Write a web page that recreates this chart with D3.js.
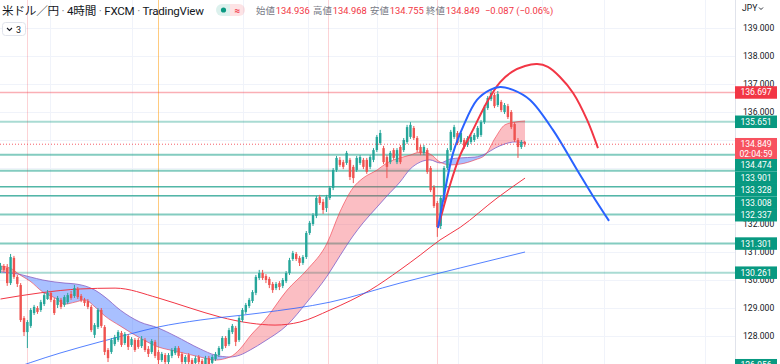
<!DOCTYPE html>
<html>
<head>
<meta charset="utf-8">
<script src="https://cdn.jsdelivr.net/npm/d3@7"></script>
<style>
  body { margin: 0; background: #fff; }
  svg { display: block; font-family: Roboto, "Noto Sans CJK JP", sans-serif; }
</style>
</head>
<body>
<div id="chart"></div>
<script>
// 4h candles, [open, high, low, close]
const candles = [
  [130.36,130.61,130.25,130.50],[130.50,130.57,130.29,130.36],[130.43,130.57,129.79,129.89],[129.89,130.93,129.82,130.82],
  [130.79,130.86,130.04,130.11],[130.11,130.18,129.75,129.86],[129.82,129.89,128.50,128.57],[128.64,128.71,128.00,128.14],
  [128.14,128.57,127.57,128.50],[128.36,129.00,128.29,128.93],[128.82,129.11,128.75,129.04],[129.00,129.07,128.79,128.86],
  [128.93,129.29,128.86,129.21],[129.14,129.54,129.07,129.46],[129.32,129.64,129.29,129.54],[129.54,129.61,129.21,129.29],
  [129.29,129.36,128.75,128.82],[129.11,129.43,129.00,129.36],[129.29,129.36,128.96,129.04],[129.11,129.46,129.04,129.39],
  [129.21,129.54,129.14,129.46],[129.50,129.61,129.29,129.36],[129.43,129.82,129.36,129.71],[129.68,129.75,129.32,129.39],
  [129.43,129.50,129.21,129.29],[129.29,129.36,129.07,129.18],[129.25,129.32,128.96,129.04],[129.04,129.11,128.14,128.21],
  [128.04,128.46,127.93,128.39],[128.32,129.00,128.25,128.93],[128.93,129.00,128.29,128.36],[128.32,128.39,127.32,127.43],
  [127.50,127.57,127.07,127.21],[127.43,127.93,127.36,127.86],[127.71,128.04,127.64,127.96],[127.86,128.21,127.79,128.14],
  [128.11,128.18,127.61,127.68],[127.75,128.14,127.68,128.07],[128.00,128.07,127.50,127.61],[127.68,127.96,127.61,127.89],
  [127.86,127.93,127.43,127.50],[127.86,127.93,127.54,127.61],[127.64,128.00,127.57,127.89],[127.86,127.93,127.43,127.50],
  [127.54,127.64,127.25,127.36],[127.43,127.89,127.36,127.82],[127.79,127.86,127.21,127.29],[127.43,127.50,126.96,127.14],
  [127.14,127.43,127.07,127.36],[127.32,127.39,127.00,127.07],[127.07,127.39,127.00,127.32],[127.29,127.57,127.21,127.50],
  [127.39,127.64,127.32,127.57],[127.57,127.64,127.21,127.29],[127.36,127.43,126.96,127.07],[127.07,127.32,127.00,127.25],
  [127.32,127.39,127.00,127.07],[127.14,127.21,126.89,127.00],[127.04,127.29,126.96,127.21],[127.25,127.32,127.00,127.07],
  [127.11,127.18,126.89,127.00],[127.00,127.29,126.93,127.21],[127.21,127.29,126.93,127.00],[127.04,127.32,126.96,127.25],
  [127.18,127.43,127.11,127.36],[127.32,127.64,127.25,127.57],[127.54,128.00,127.46,127.93],[127.93,128.00,127.57,127.64],
  [127.71,128.29,127.64,128.21],[128.14,128.43,128.07,128.36],[128.29,128.36,127.64,127.79],[127.86,128.71,127.79,128.64],
  [128.57,129.00,128.50,128.93],[128.86,129.18,128.79,129.11],[129.07,129.36,129.00,129.29],[129.25,129.64,129.18,129.57],
  [129.54,130.18,129.46,130.11],[130.07,130.36,130.00,130.25],[130.25,130.36,130.00,130.07],[130.14,130.21,129.89,130.00],
  [130.04,130.11,129.71,129.82],[129.86,129.93,129.54,129.64],[129.71,129.93,129.64,129.86],[129.89,129.96,129.64,129.75],
  [129.79,130.07,129.71,130.00],[129.96,130.32,129.89,130.25],[130.25,130.79,130.18,130.71],[130.75,131.04,130.68,130.96],
  [130.93,131.00,130.68,130.75],[130.79,130.86,130.50,130.61],[130.61,130.89,130.54,130.82],[130.82,131.75,130.75,131.68],
  [131.68,132.11,131.61,132.04],[132.00,132.39,131.93,132.32],[132.29,133.00,132.21,132.93],[132.96,133.04,132.68,132.75],
  [132.79,132.89,132.36,132.50],[132.57,133.04,132.43,132.96],[132.93,133.36,132.86,133.29],[133.29,134.00,133.21,133.93],
  [133.93,134.43,133.86,134.36],[134.29,134.39,134.04,134.11],[134.21,134.29,133.96,134.04],[134.18,134.61,134.11,134.54],
  [134.29,134.36,133.57,133.68],[134.04,134.11,133.46,133.64],[133.93,134.43,133.86,134.36],[134.18,134.46,134.11,134.39],
  [134.29,134.36,133.96,134.04],[134.29,134.36,133.79,133.86],[134.04,134.46,133.96,134.39],[134.29,134.71,134.21,134.64],
  [134.64,135.18,134.57,135.11],[134.89,135.36,134.82,135.25],[134.71,134.79,134.14,134.21],[134.39,134.46,133.64,134.04],
  [134.21,134.61,134.14,134.54],[134.64,134.71,134.29,134.36],[134.21,134.71,134.14,134.64],[134.75,134.82,134.14,134.21],
  [134.64,135.07,134.57,135.00],[134.93,135.54,134.86,135.46],[135.11,135.64,135.04,135.54],[135.43,135.50,135.00,135.07],
  [135.07,135.14,134.57,134.64],[134.75,134.82,134.46,134.54],[134.54,134.82,134.46,134.75],[134.64,134.71,133.79,133.86],
  [134.00,134.07,133.14,133.21],[133.32,133.39,132.57,132.64],[132.75,132.82,131.54,131.89],[131.93,133.00,131.82,132.93],
  [132.86,134.07,132.79,134.00],[134.00,134.71,133.93,134.64],[134.64,135.36,134.57,135.29],[135.11,135.54,135.04,135.46],
  [135.25,135.32,134.82,134.89],[134.93,135.32,134.86,135.25],[135.00,135.07,134.68,134.75],[134.82,135.14,134.75,135.07],
  [134.93,135.18,134.86,135.11],[135.00,135.25,134.93,135.18],[135.11,135.50,135.04,135.43],[135.18,135.71,135.11,135.64],
  [135.64,136.25,135.57,136.18],[136.14,136.57,136.07,136.50],[136.46,136.79,136.39,136.68],[136.61,136.68,136.14,136.21],
  [136.25,136.75,136.18,136.64],[136.36,136.43,136.00,136.07],[136.00,136.32,135.93,136.25],[136.21,136.29,135.75,135.82],
  [136.00,136.07,135.39,135.46],[135.57,135.64,134.93,135.00],[135.00,135.07,134.36,134.75],[134.75,135.00,134.68,134.93],
  [134.936,134.968,134.755,134.849]
];

// moving averages, [bar, price]
const smaRed = [[0,129.32],[11.8,129.54],[23.7,129.68],[34.1,129.71],[46.9,129.36],[56.4,129.00],[65.3,128.68],
  [74.3,128.46],[81.7,128.39],[89.1,128.50],[98.1,128.93],[110,129.64],[118.9,130.36],[124.9,130.89],
  [130.8,131.43],[136.8,131.88],[147.8,132.93],[156.1,133.64]];
const smaBlue = [[0,126.68],[17.7,127.39],[29.6,127.79],[38.5,128.07],[46.9,128.32],[59.4,128.57],[77.2,128.82],
  [98.1,129.21],[118.9,129.89],[136.8,130.43],[156.1,131.00]];

// ribbon (fast / slow average)
const ribbonBars = [0,2.8,5.8,8.8,12.6,16.2,19.2,22.2,25.1,28.1,31.1,35.6,41.5,46.9,52,59.4,63.8,68.3,71.3,74.3,
  78.7,85.3,91.2,97.2,101,104.9,107.9,112.1,115,118.9,121.9,124.9,127.8,130.8,133.8,136.8,141.2,144.2,147.2,150.1,153.1,156.1];
const ribbonFast = [130.50,130.43,130.18,129.96,129.57,129.36,129.14,129.21,129.29,129.04,128.71,128.36,127.93,127.61,
  127.46,127.25,127.14,127.25,127.54,128.00,128.57,129.64,130.36,131.32,132.43,133.29,133.64,133.93,134.18,134.36,
  134.46,134.57,134.50,134.21,134.11,134.14,134.29,134.46,135.07,135.54,135.64,135.68];
const ribbonSlow = [130.29,130.25,130.20,130.11,130.00,129.93,129.89,129.86,129.79,129.64,129.39,128.93,128.50,128.29,
  128.00,127.54,127.32,127.25,127.32,127.50,127.82,128.39,129.21,130.14,130.86,131.57,132.04,132.61,133.00,133.50,
  133.96,134.21,134.29,134.18,134.32,134.36,134.39,134.50,134.71,134.86,134.93,134.89];

// hand drawn arcs, [bar, price]
const redArc = [[130.2,131.86],[133.5,133.29],[136.8,134.46],[140.6,135.36],[144.8,136.36],[148.7,137.07],[152.2,137.43],
  [156.1,137.64],[159.7,137.71],[162.9,137.61],[166.5,137.25],[170.4,136.68],[174.6,135.71],[177.8,134.71]];
const blueArc = [[130.2,131.86],[132.3,133.21],[134.7,134.54],[137.6,135.46],[141.8,136.43],[145.7,136.79],[148.7,136.89],
  [152.5,136.79],[157.6,136.43],[164.4,135.36],[171.6,133.93],[176.3,133.00],[181.1,132.11]];

const resistance = [136.697];
const supports = [135.651, 134.474, 133.901, 133.328, 133.008, 132.337, 131.301, 130.261];
const lowLabel = 126.956;
const lastPrice = 134.849;
const countdown = "02:04:59";
const priceTicks = [139, 138, 137, 136, 135, 134, 133, 132, 131, 130, 129, 128];
const sessionBars = [7.9, 97.5, 129.9];
const highlightBars = [46.9];
const gridBars = [14.7, 39.1, 72.2, 91.5, 112.1, 136.2, 161.2, 179.6, 209.7];

const titleParts = ["米ドル／円", "4時間", "FXCM", "TradingView"];
const ohlcParts = [["始値", "134.936"], ["高値", "134.968"], ["安値", "134.755"], ["終値", "134.849"]];
const change = "−0.087 (−0.06%)";

const W = 780, H = 364, plotW = 735;
const UP = "#26a69a", DOWN = "#ef5350", RED = "#f23645", TEAL = "#089981", BLUE = "#2962ff";

const x = d3.scaleLinear().domain([0, 156]).range([0.5, 524.7]);
const y = d3.scaleLinear().domain([128, 139]).range([336, 28]);

const svg = d3.select("#chart").append("svg").attr("width", W).attr("height", H);

svg.append("defs").append("clipPath").attr("id", "plot")
  .append("rect").attr("width", plotW).attr("height", H);

const plot = svg.append("g").attr("clip-path", "url(#plot)");

// grid
plot.selectAll(".hg").data(priceTicks).join("line")
  .attr("x1", 0).attr("x2", plotW)
  .attr("y1", d => Math.round(y(d)) + 0.5).attr("y2", d => Math.round(y(d)) + 0.5)
  .attr("stroke", "#f0f3fa");
plot.selectAll(".vg").data(gridBars).join("line")
  .attr("x1", d => Math.round(x(d)) + 0.5).attr("x2", d => Math.round(x(d)) + 0.5)
  .attr("y1", 0).attr("y2", H).attr("stroke", "#f0f3fa");

// session separators
plot.selectAll(".sess").data(sessionBars).join("line")
  .attr("x1", d => Math.round(x(d)) + 0.5).attr("x2", d => Math.round(x(d)) + 0.5)
  .attr("y1", 0).attr("y2", H).attr("stroke", "rgba(242,54,69,0.22)");
plot.selectAll(".hl").data(highlightBars).join("line")
  .attr("x1", d => Math.round(x(d)) + 0.5).attr("x2", d => Math.round(x(d)) + 0.5)
  .attr("y1", 0).attr("y2", H).attr("stroke", "rgba(255,152,0,0.5)");

// horizontal levels
const strong = new Set([133.328, 133.008]);
const light = new Set([135.651, 130.261]);
plot.selectAll(".sup").data(supports).join("line")
  .attr("x1", 0).attr("x2", plotW)
  .attr("y1", d => y(d)).attr("y2", d => y(d))
  .attr("stroke", TEAL)
  .attr("stroke-opacity", d => strong.has(d) ? 0.7 : light.has(d) ? 0.35 : 0.5)
  .attr("stroke-width", d => strong.has(d) ? 1.4 : 2);
plot.selectAll(".res").data(resistance).join("line")
  .attr("x1", 0).attr("x2", plotW)
  .attr("y1", d => y(d)).attr("y2", d => y(d))
  .attr("stroke", RED).attr("stroke-opacity", 0.4).attr("stroke-width", 1.6);

// ribbon fill: red where fast is above slow, blue where below
const rib = ribbonBars.map((b, i) => ({ b, f: ribbonFast[i], s: ribbonSlow[i] }));
const curve = d3.curveMonotoneX;
const band = d3.area().x(d => x(d.b)).y0(d => y(d.s)).y1(d => y(d.f)).curve(curve);
const defs = svg.select("defs");
defs.append("clipPath").attr("id", "aboveSlow").append("path")
  .attr("d", d3.area().x(d => x(d.b)).y0(0).y1(d => y(d.s)).curve(curve)(rib));
defs.append("clipPath").attr("id", "belowSlow").append("path")
  .attr("d", d3.area().x(d => x(d.b)).y0(H).y1(d => y(d.s)).curve(curve)(rib));
plot.append("path").attr("d", band(rib)).attr("fill", "rgba(242,54,69,0.32)").attr("clip-path", "url(#aboveSlow)");
plot.append("path").attr("d", band(rib)).attr("fill", "rgba(41,98,255,0.4)").attr("clip-path", "url(#belowSlow)");
plot.append("path").attr("d", d3.line().x(d => x(d.b)).y(d => y(d.s)).curve(curve)(rib))
  .attr("fill", "none").attr("stroke", "rgba(126,87,194,0.75)").attr("stroke-width", 1);
plot.append("path").attr("d", d3.line().x(d => x(d.b)).y(d => y(d.f)).curve(curve)(rib))
  .attr("fill", "none").attr("stroke", "rgba(242,54,69,0.6)").attr("stroke-width", 1);

// moving averages
const maLine = d3.line().x(d => x(d[0])).y(d => y(d[1])).curve(d3.curveMonotoneX);
plot.append("path").attr("d", maLine(smaRed)).attr("fill", "none").attr("stroke", RED).attr("stroke-width", 1);
plot.append("path").attr("d", maLine(smaBlue)).attr("fill", "none").attr("stroke", BLUE).attr("stroke-opacity", 0.8).attr("stroke-width", 1);

// candles
const bars = plot.append("g").selectAll("g").data(candles).join("g")
  .attr("fill", d => d[3] >= d[0] ? UP : DOWN)
  .attr("stroke", d => d[3] >= d[0] ? UP : DOWN);
bars.append("line")
  .attr("x1", (d, i) => x(i)).attr("x2", (d, i) => x(i))
  .attr("y1", d => y(d[1])).attr("y2", d => y(d[2])).attr("stroke-width", 1);
bars.append("rect")
  .attr("x", (d, i) => x(i) - 1.2).attr("width", 2.4)
  .attr("y", d => y(Math.max(d[0], d[3])))
  .attr("height", d => Math.max(1, Math.abs(y(d[0]) - y(d[3]))))
  .attr("stroke", "none");

// arcs
const arcLine = d3.line().x(d => x(d[0])).y(d => y(d[1])).curve(d3.curveCatmullRom);
plot.append("path").attr("d", arcLine(redArc)).attr("fill", "none").attr("stroke", RED).attr("stroke-width", 2);
plot.append("path").attr("d", arcLine(blueArc)).attr("fill", "none").attr("stroke", BLUE).attr("stroke-width", 2);

// last price line
plot.append("line").attr("x1", 0).attr("x2", plotW)
  .attr("y1", y(lastPrice)).attr("y2", y(lastPrice))
  .attr("stroke", RED).attr("stroke-dasharray", "1 2").attr("stroke-opacity", 0.8);

// legend
const head = svg.append("g").attr("fill", "#131722");
const title = head.append("text").attr("x", 2).attr("y", 14.5).attr("font-size", 11.6)
  .attr("textLength", 202).attr("lengthAdjust", "spacing");
titleParts.forEach((s, i) => {
  if (i > 0) title.append("tspan").attr("fill", "#787b86").text(" · ");
  title.append("tspan").attr("fill", "#131722").text(s);
});

const badge = head.append("g").attr("transform", "translate(216,4)");
badge.append("path").attr("d", "M6 0 H14 V12 H6 A6 6 0 0 1 6 0 Z").attr("fill", "rgba(8,153,129,0.14)");
badge.append("path").attr("d", "M14 0 H23 A6 6 0 0 1 23 12 H14 Z").attr("fill", "rgba(242,54,69,0.14)");
badge.append("circle").attr("cx", 7.5).attr("cy", 6).attr("r", 2.6).attr("fill", TEAL);
badge.append("text").attr("x", 21.5).attr("y", 9.6).attr("text-anchor", "middle")
  .attr("font-size", 10).attr("font-weight", 700).attr("fill", RED).text("≈");

const ohlcX = [256, 313, 370, 426];
ohlcParts.forEach((p, i) => {
  const t = head.append("text").attr("x", ohlcX[i]).attr("y", 13.5).attr("font-size", 9.4);
  t.append("tspan").attr("fill", "#787b86").text(p[0]);
  t.append("tspan").attr("fill", RED).attr("dx", 1).text(p[1]);
});
head.append("text").attr("x", 485).attr("y", 13.5).attr("font-size", 9.4).attr("fill", RED).text(change);

const btn = head.append("g");
btn.append("rect").attr("x", 2.5).attr("y", 22.5).attr("width", 23).attr("height", 13).attr("rx", 3)
  .attr("fill", "#fff").attr("stroke", "#e0e3eb");
btn.append("path").attr("d", "M7 28 l2.5 2.5 l2.5 -2.5").attr("fill", "none").attr("stroke", "#131722").attr("stroke-width", 1.1);
btn.append("text").attr("x", 16).attr("y", 32.5).attr("font-size", 9).text("3");

// price labels, stacked so they do not overlap
const lh = 12.5;
const tags = [
  ...resistance.map(p => ({ p, fill: RED, lines: [d3.format(".3f")(p)] })),
  ...supports.map(p => ({ p, fill: TEAL, lines: [d3.format(".3f")(p)] })),
  { p: lastPrice, fill: "#f7525f", lines: [d3.format(".3f")(lastPrice), countdown] },
  { p: lowLabel, fill: TEAL, lines: [d3.format(".3f")(lowLabel)] }
].sort((a, b) => b.p - a.p);
let prevBottom = -Infinity;
tags.forEach(t => {
  t.h = t.lines.length > 1 ? 21 : lh;
  t.top = Math.max(y(t.p) - lh / 2, prevBottom);
  prevBottom = t.top + t.h;
});
// a tick label sitting under a price tag is hidden by it
const covered = v => tags.some(t => y(v) > t.top - 0.5 && y(v) < t.top + t.h + 0.5);

// price scale
const axis = svg.append("g");
axis.append("rect").attr("x", plotW).attr("width", W - plotW).attr("height", H).attr("fill", "#fff");
axis.append("line").attr("x1", plotW + 0.5).attr("x2", plotW + 0.5).attr("y1", 0).attr("y2", H).attr("stroke", "#e0e3eb");
axis.append("text").attr("x", 742).attr("y", 11).attr("font-size", 8.6).attr("fill", "#131722").text("JPY");
axis.append("path").attr("d", "M759 7.5 l2 2 l2 -2").attr("fill", "none").attr("stroke", "#131722").attr("stroke-width", 0.9);
axis.selectAll(".tick").data(priceTicks.filter(v => !covered(v))).join("text")
  .attr("x", 743).attr("y", d => y(d) + 3)
  .attr("font-size", 8.6).attr("fill", "#131722")
  .text(d => d3.format(".3f")(d));

tags.forEach(t => {
  const g = axis.append("g");
  g.append("rect").attr("x", plotW).attr("y", t.top).attr("width", 42).attr("height", t.h).attr("fill", t.fill);
  t.lines.forEach((s, k) => {
    g.append("text").attr("x", 756).attr("y", t.top + lh / 2 + 3 + k * 9.5)
      .attr("text-anchor", "middle").attr("font-size", 8.6).attr("fill", "#fff").text(s);
  });
});
</script>
</body>
</html>
